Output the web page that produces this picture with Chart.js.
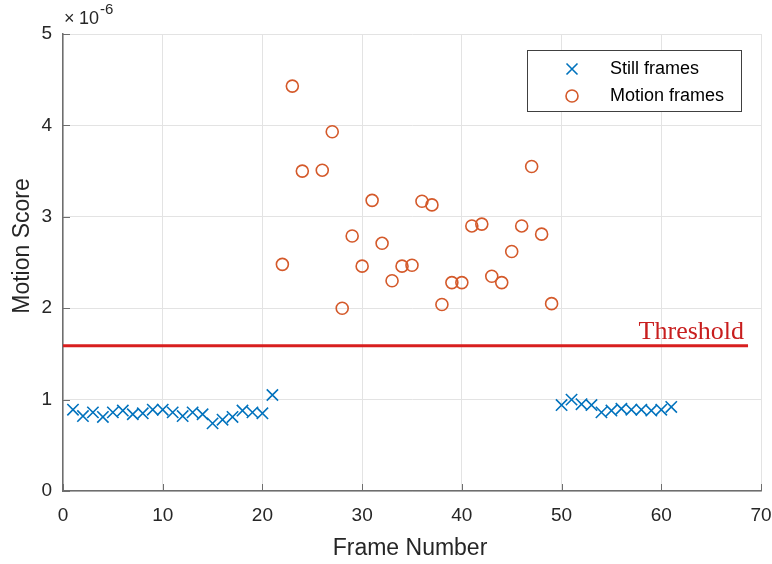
<!DOCTYPE html>
<html>
<head>
<meta charset="utf-8">
<title>Motion Score</title>
<script src="https://cdn.jsdelivr.net/npm/chart.js@4.4.1/dist/chart.umd.min.js"></script>
<style>
  html, body { margin: 0; padding: 0; background: #fff; }
  #wrap { width: 772px; height: 564px; }
</style>
</head>
<body>
<div id="wrap"><canvas id="motionChart" width="772" height="564"></canvas></div>
<script>
// scores are in units of 1e-6
const stillFrames = [1, 2, 3, 4, 5, 6, 7, 8, 9, 10, 11, 12, 13, 14, 15, 16, 17, 18, 19, 20, 21,
    50, 51, 52, 53, 54, 55, 56, 57, 58, 59, 60, 61];
const stillScores = [0.89, 0.82, 0.86, 0.81, 0.86, 0.88, 0.84, 0.85, 0.89, 0.89, 0.86, 0.82, 0.86, 0.84, 0.74, 0.78, 0.81, 0.88, 0.86, 0.85, 1.05,
    0.94, 1.00, 0.95, 0.94, 0.86, 0.88, 0.90, 0.89, 0.89, 0.88, 0.89, 0.92];
const motionFrames = [22, 23, 24, 26, 27, 28, 29, 30, 31, 32, 33, 34, 35, 36, 37, 38, 39, 40, 41, 42, 43, 44, 45, 46, 47, 48, 49];
const motionScores = [2.48, 4.43, 3.50, 3.51, 3.93, 2.00, 2.79, 2.46, 3.18, 2.71, 2.30, 2.46, 2.47, 3.17, 3.13, 2.04, 2.28, 2.28,
    2.90, 2.92, 2.35, 2.28, 2.62, 2.90, 3.55, 2.81, 2.05];
const thresholdX = [0, 68.7];
const thresholdLevel = 1.59;
const xTicks = [0, 10, 20, 30, 40, 50, 60, 70];
const yTicks = [0, 1, 2, 3, 4, 5];
const yExponent = '-6';

const BLUE = '#0072BD';
const ORANGE = '#D4592A';
const RED = '#d81f1f';
const INK = '#262626';
const AXIS = '#6e6e6e';
const SANS = "'Liberation Sans', Arial, Helvetica, sans-serif";

const toPoints = (xs, ys) => xs.map((x, i) => ({ x: x, y: ys[i] }));

// axis titles, inward ticks, exponent, threshold label and boxed legend
const decorations = {
    id: 'decorations',
    afterDraw(chart) {
        const ctx = chart.ctx;
        const area = chart.chartArea;
        const sx = chart.scales.x, sy = chart.scales.y;
        ctx.save();

        // inward tick marks
        ctx.strokeStyle = AXIS;
        ctx.lineWidth = 1;
        ctx.beginPath();
        xTicks.forEach(v => {
            const px = Math.round(sx.getPixelForValue(v)) + 0.5;
            ctx.moveTo(px, area.bottom);
            ctx.lineTo(px, area.bottom - 7);
        });
        yTicks.forEach(v => {
            const py = Math.round(sy.getPixelForValue(v)) + 0.5;
            ctx.moveTo(area.left, py);
            ctx.lineTo(area.left + 7, py);
        });
        ctx.stroke();

        // threshold label
        ctx.fillStyle = '#c81e1e';
        ctx.font = "26px 'Liberation Serif', 'Times New Roman', serif";
        ctx.textAlign = 'right';
        ctx.textBaseline = 'alphabetic';
        ctx.fillText('Threshold', sx.getPixelForValue(thresholdX[1]) - 4, sy.getPixelForValue(thresholdLevel) - 7);

        // axis titles
        ctx.fillStyle = INK;
        ctx.font = '23px ' + SANS;
        ctx.textAlign = 'center';
        ctx.fillText('Frame Number', 410, 555);
        ctx.save();
        ctx.translate(28.5, 246);
        ctx.rotate(-Math.PI / 2);
        ctx.fillText('Motion Score', 0, 0);
        ctx.restore();

        // exponent above the y axis
        ctx.textAlign = 'left';
        ctx.font = '18px ' + SANS;
        ctx.fillText('\u00d7', 64, 24);
        ctx.fillText('10', 79, 24);
        ctx.font = '15px ' + SANS;
        ctx.fillText(yExponent, 100, 14);

        // legend box
        const lx = 527, ly = 50, lw = 214, lh = 61;
        ctx.fillStyle = '#fff';
        ctx.fillRect(lx, ly, lw, lh);
        ctx.strokeStyle = '#404040';
        ctx.lineWidth = 1;
        ctx.strokeRect(lx + 0.5, ly + 0.5, lw, lh);

        const rows = [
            { label: chart.data.datasets[0].label, y: 69, kind: 'x' },
            { label: chart.data.datasets[1].label, y: 96, kind: 'o' }
        ];
        rows.forEach(r => {
            const mx = 572;
            ctx.lineWidth = 1.6;
            ctx.beginPath();
            if (r.kind === 'x') {
                ctx.strokeStyle = BLUE;
                ctx.moveTo(mx - 5.5, r.y - 5.5); ctx.lineTo(mx + 5.5, r.y + 5.5);
                ctx.moveTo(mx - 5.5, r.y + 5.5); ctx.lineTo(mx + 5.5, r.y - 5.5);
            } else {
                ctx.strokeStyle = ORANGE;
                ctx.arc(mx, r.y, 6, 0, Math.PI * 2);
            }
            ctx.stroke();
            ctx.fillStyle = '#000';
            ctx.font = '18px ' + SANS;
            ctx.textAlign = 'left';
            ctx.textBaseline = 'middle';
            ctx.fillText(r.label, 610, r.y);
        });

        ctx.restore();
    }
};

new Chart(document.getElementById('motionChart'), {
    type: 'scatter',
    data: {
        datasets: [
            {
                label: 'Still frames',
                data: toPoints(stillFrames, stillScores),
                pointStyle: 'crossRot',
                pointRadius: 8,
                borderColor: BLUE,
                backgroundColor: BLUE,
                pointBorderWidth: 1.6
            },
            {
                label: 'Motion frames',
                data: toPoints(motionFrames, motionScores),
                pointStyle: 'circle',
                pointRadius: 6,
                borderColor: ORANGE,
                backgroundColor: 'rgba(0,0,0,0)',
                pointBorderWidth: 1.6
            },
            {
                type: 'line',
                label: 'Threshold',
                data: thresholdX.map(x => ({ x: x, y: thresholdLevel })),
                borderColor: RED,
                borderWidth: 3,
                pointRadius: 0,
                showLine: true,
                fill: false
            }
        ]
    },
    options: {
        responsive: false,
        animation: false,
        devicePixelRatio: 1,
        layout: { padding: { top: 34, right: 11, left: 0, bottom: 0 } },
        plugins: {
            legend: { display: false },
            tooltip: { enabled: false }
        },
        scales: {
            x: {
                type: 'linear',
                min: 0,
                max: 70,
                afterBuildTicks: s => { s.ticks = xTicks.map(v => ({ value: v })); },
                ticks: { font: { size: 19, family: SANS }, color: INK, padding: 13, maxRotation: 0 },
                grid: { color: '#e3e3e3', drawTicks: false },
                border: { color: AXIS, width: 1.5 },
                afterFit: s => { s.height = 73; s.paddingLeft = 0; s.paddingRight = 0; }
            },
            y: {
                type: 'linear',
                min: 0,
                max: 5,
                afterBuildTicks: s => { s.ticks = yTicks.map(v => ({ value: v })); },
                ticks: { font: { size: 19, family: SANS }, color: INK, padding: 11 },
                grid: { color: '#e3e3e3', drawTicks: false },
                border: { color: AXIS, width: 1.5 },
                afterFit: s => { s.width = 63; s.paddingTop = 0; s.paddingBottom = 0; }
            }
        }
    },
    plugins: [decorations]
});
</script>
</body>
</html>
